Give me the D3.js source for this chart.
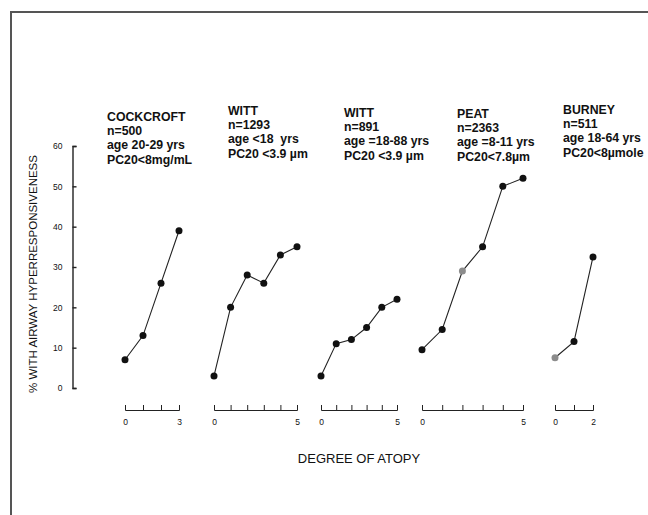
<!DOCTYPE html>
<html>
<head>
<meta charset="utf-8">
<script src="https://cdn.jsdelivr.net/npm/d3@7"></script>
<style>
  body { margin: 0; background: #fff; }
  svg { display: block; font-family: "Liberation Sans", Arial, sans-serif; }
  .head { font-weight: bold; font-size: 12.3px; fill: #111; white-space: pre; }
  .axis text { font-size: 8.5px; fill: #111; }
  .axis path, .axis line { stroke: #222; stroke-width: 1; }
  .yaxis path, .yaxis line { stroke-width: 1.4; }
</style>
</head>
<body>
<div id="chart"></div>
<script>
// Data
const studyHeads = [
  ["COCKCROFT", "n=500", "age 20-29 yrs", "PC20<8mg/mL"],
  ["WITT", "n=1293", "age <18  yrs", "PC20 <3.9 µm"],
  ["WITT", "n=891", "age =18-88 yrs", "PC20 <3.9 µm"],
  ["PEAT", "n=2363", "age =8-11 yrs", "PC20<7.8µm"],
  ["BURNEY", "n=511", "age 18-64 yrs", "PC20<8µmole"],
];
const cockcroft = [7, 13, 26, 39];
const wittChild = [3, 20, 28, 26, 33, 35];
const wittAdult = [3, 11, 12, 15, 20, 22];
const peat = [9.5, 14.5, 29, 35, 50, 52];
const burney = [7.5, 11.5, 32.5];
const series = [cockcroft, wittChild, wittAdult, peat, burney];
// points drawn in grey in the original figure (study index, atopy degree)
const greyPoints = [[3, 2], [4, 0]];
const yTicks = [0, 10, 20, 30, 40, 50, 60];

// Layout
const W = 648, H = 515;
const panelX = [[125, 179], [214, 297], [321, 397], [422, 523], [555, 593]];
const headPos = [[107, 121], [228, 115], [344, 117], [457, 118], [563, 114]];
const lineGap = 14.2;
const xAxisY = 410;

const svg = d3.select("#chart").append("svg")
  .attr("width", W)
  .attr("height", H);

// frame (top and left edges only)
svg.append("path")
  .attr("d", "M11," + H + "V12H" + W)
  .attr("fill", "none")
  .attr("stroke", "#555")
  .attr("stroke-width", 2);

// y scale & axis
const y = d3.scaleLinear().domain([0, 60]).range([388, 146]);

svg.append("g")
  .attr("class", "axis yaxis")
  .attr("transform", "translate(72.5,0)")
  .call(d3.axisLeft(y).tickValues(yTicks).tickSizeInner(-4).tickSizeOuter(-4).tickPadding(10));

svg.append("text")
  .attr("transform", "translate(37,274) rotate(-90)")
  .attr("text-anchor", "middle")
  .style("font-size", "11.5px")
  .style("fill", "#111")
  .text("% WITH AIRWAY HYPERRESPONSIVENESS");

// panels
series.forEach((vals, i) => {
  const n = vals.length - 1;
  const x = d3.scaleLinear().domain([0, n]).range(panelX[i]);

  svg.append("g")
    .attr("class", "axis")
    .attr("transform", "translate(0," + xAxisY + ")")
    .call(d3.axisBottom(x)
      .tickValues(d3.range(n + 1))
      .tickSizeInner(-5)
      .tickSizeOuter(-5)
      .tickPadding(9)
      .tickFormat((d) => (d === 0 || d === n ? d : "")));

  const pts = vals.map((v, k) => ({ k: k, v: v }));
  svg.append("path")
    .datum(pts)
    .attr("fill", "none")
    .attr("stroke", "#222")
    .attr("stroke-width", 1.1)
    .attr("d", d3.line().x((d) => x(d.k)).y((d) => y(d.v)));

  svg.selectAll(".dot" + i)
    .data(pts)
    .enter()
    .append("circle")
    .attr("cx", (d) => x(d.k))
    .attr("cy", (d) => y(d.v))
    .attr("r", 3.5)
    .attr("fill", (d) =>
      greyPoints.some((g) => g[0] === i && g[1] === d.k) ? "#8c8c8c" : "#111");

  const head = svg.append("text")
    .attr("class", "head")
    .attr("x", headPos[i][0])
    .attr("y", headPos[i][1]);
  studyHeads[i].forEach((line, j) => {
    head.append("tspan")
      .attr("x", headPos[i][0])
      .attr("y", headPos[i][1] + j * lineGap)
      .text(line);
  });
});

// x label
svg.append("text")
  .attr("x", 359)
  .attr("y", 463)
  .attr("text-anchor", "middle")
  .style("font-size", "13px")
  .style("fill", "#111")
  .text("DEGREE OF ATOPY");
</script>
</body>
</html>
